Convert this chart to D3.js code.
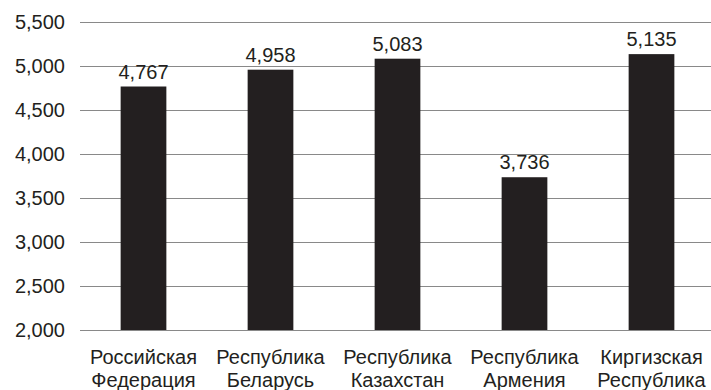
<!DOCTYPE html>
<html>
<head>
<meta charset="utf-8">
<script src="https://cdn.jsdelivr.net/npm/d3@7"></script>
<style>
  body { margin: 0; background: #fff; }
  text { font-family: "Liberation Sans", Arial, sans-serif; fill: #231f20; }
</style>
</head>
<body>
<div class="chart"></div>
<script>
const categories = [
  ['Российская', 'Федерация'],
  ['Республика', 'Беларусь'],
  ['Республика', 'Казахстан'],
  ['Республика', 'Армения'],
  ['Киргизская', 'Республика']
]
const values = [4767, 4958, 5083, 3736, 5135]
const yTicks = [2000, 2500, 3000, 3500, 4000, 4500, 5000, 5500]

const width = 711
const height = 390
const margin = { top: 22, right: -4, bottom: 60, left: 80 }
const fontSize = '20px'

const svg = d3
  .select('.chart')
  .append('svg')
  .attr('width', width)
  .attr('height', height)

const x = d3
  .scaleBand()
  .domain(d3.range(values.length))
  .range([margin.left, width - margin.right])
  .paddingInner(0.64)
  .paddingOuter(0.32)

const y = d3
  .scaleLinear()
  .domain([2000, 5500])
  .range([height - margin.bottom, margin.top])

const fmt = d3.format(',')

// gridlines
svg
  .append('g')
  .selectAll('line')
  .data(yTicks)
  .enter()
  .append('line')
  .attr('x1', margin.left)
  .attr('x2', width)
  .attr('y1', d => Math.round(y(d)) + 0.5)
  .attr('y2', d => Math.round(y(d)) + 0.5)
  .attr('stroke', '#898989')
  .attr('stroke-width', 1.2)

// y axis labels
const yAxis = d3.axisLeft(y).tickValues(yTicks).tickFormat(fmt).tickSize(0).tickPadding(15)
svg
  .append('g')
  .attr('transform', `translate(${margin.left}, 0)`)
  .call(yAxis)
  .call(g => g.select('.domain').remove())
  .selectAll('text')
  .style('font-size', fontSize)
  .style('font-family', '"Liberation Sans", Arial, sans-serif')
  .attr('fill', '#231f20')

// bars
svg
  .append('g')
  .selectAll('rect')
  .data(values)
  .enter()
  .append('rect')
  .attr('x', (_, i) => x(i))
  .attr('y', d => y(d))
  .attr('width', x.bandwidth())
  .attr('height', d => y(2000) - y(d))
  .attr('fill', '#231f20')

// value labels
svg
  .append('g')
  .selectAll('text')
  .data(values)
  .enter()
  .append('text')
  .attr('x', (_, i) => x(i) + x.bandwidth() / 2)
  .attr('y', d => y(d) - 8)
  .attr('text-anchor', 'middle')
  .style('font-size', fontSize)
  .text(d => fmt(d))

// category labels
const cat = svg
  .append('g')
  .selectAll('text')
  .data(categories)
  .enter()
  .append('text')
  .attr('text-anchor', 'middle')
  .style('font-size', fontSize)
  .attr('transform', (_, i) => `translate(${x(i) + x.bandwidth() / 2}, 0)`)

cat.append('tspan').attr('x', 0).attr('y', 364).text(d => d[0])
cat.append('tspan').attr('x', 0).attr('y', 387).text(d => d[1])
</script>
</body>
</html>
